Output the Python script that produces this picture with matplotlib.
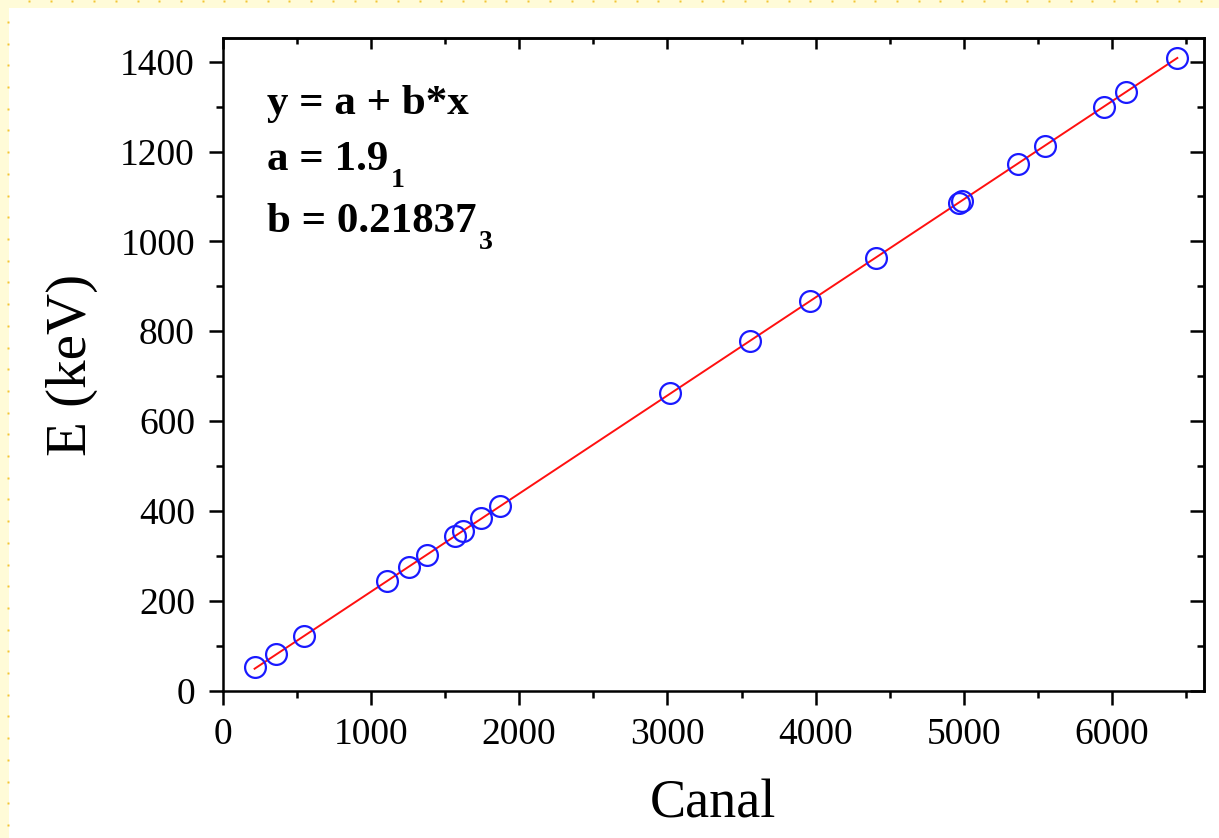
import numpy as np
import matplotlib
matplotlib.use("Agg")
import matplotlib.pyplot as plt
from matplotlib.patches import Rectangle
from matplotlib.ticker import MultipleLocator

# channel numbers and gamma energies
canal = [215, 360, 548, 1110, 1258, 1380, 1566, 1620, 1745, 1870, 3020,
         3560, 3965, 4405, 4965, 4985, 5365, 5545, 5945, 6095, 6440]
energy = [53, 81, 122, 245, 276, 303, 344, 356, 384, 411, 662,
          779, 867, 964, 1086, 1090, 1173, 1213, 1299, 1333, 1408]

# linear fit parameters shown on the chart
fit_a = 1.9
fit_b = 0.21837

plt.rcParams["font.family"] = ["Liberation Serif", "DejaVu Serif"]

fig = plt.figure(figsize=(12.19, 8.38), dpi=100)
ax = fig.add_axes([0.1827, 0.1758, 0.8050, 0.7785])

# fitted line across the data range
xfit = np.array([min(canal), max(canal)])
ax.plot(xfit, fit_a + fit_b * xfit, color="#ff1010", lw=1.4, zorder=2)
ax.plot(canal, energy, "o", ms=15, mfc="none", mec="#1a1aff", mew=1.6, zorder=3)

ax.set_xlim(0, 6620)
ax.set_ylim(0, 1452)
ax.xaxis.set_major_locator(MultipleLocator(1000))
ax.xaxis.set_minor_locator(MultipleLocator(500))
ax.yaxis.set_major_locator(MultipleLocator(200))
ax.yaxis.set_minor_locator(MultipleLocator(100))

for s in ax.spines.values():
    s.set_linewidth(1.8)
ax.tick_params(which="major", direction="out", length=10, width=1.8, labelsize=27, pad=9)
ax.tick_params(which="minor", direction="out", length=5, width=1.8)
ax.tick_params(axis="y", which="major", pad=10)

# inward ticks on top and right
top = ax.secondary_xaxis("top")
top.xaxis.set_major_locator(MultipleLocator(1000))
top.xaxis.set_minor_locator(MultipleLocator(500))
top.tick_params(which="major", direction="in", length=8, width=1.8, labeltop=False)
top.tick_params(which="minor", direction="in", length=4, width=1.8)
right = ax.secondary_yaxis("right")
right.yaxis.set_major_locator(MultipleLocator(200))
right.yaxis.set_minor_locator(MultipleLocator(100))
right.tick_params(which="major", direction="in", length=10, width=1.8, labelright=False)
right.tick_params(which="minor", direction="in", length=5, width=1.8)
for sec in (top, right):
    for s in sec.spines.values():
        s.set_linewidth(1.8)

ax.set_xlabel("Canal", fontsize=39)
ax.set_ylabel("E (keV)", fontsize=41)
ax.xaxis.set_label_coords(0.5, -0.135)
ax.yaxis.set_label_coords(-0.127, 0.5)

kw = dict(transform=ax.transAxes, fontsize=31, fontweight="bold", va="baseline", ha="left")
ax.text(0.045, 0.884, "y = a + b*x", **kw)
ta = ax.text(0.045, 0.798, "a = 1.9", **kw)
tb = ax.text(0.045, 0.703, "b = 0.21837", **kw)
# lowered subscripts (uncertainty digits)
for t, sub in ((ta, "1"), (tb, "3")):
    ax.annotate(sub, xy=(1, 0), xycoords=t, xytext=(2, 8), textcoords="offset points",
                fontsize=20, fontweight="bold", ha="left", va="top")

# yellow dotted page border (top and left)
W, H = 1219, 838
fig.add_artist(Rectangle((0, 1 - 8 / H), 1, 8 / H, transform=fig.transFigure,
                         facecolor="#fffbd8", edgecolor="none", zorder=0))
fig.add_artist(Rectangle((0, 0), 9 / W, 1, transform=fig.transFigure,
                         facecolor="#fffbd8", edgecolor="none", zorder=0))
dx = np.arange(29, W, 21.7) / W
dy = np.arange(22, H, 21.7) / H
fig.add_artist(plt.Line2D(dx, np.full(len(dx), 1 - 1.5 / H), transform=fig.transFigure,
                          ls="none", marker="s", ms=1.8, mfc="#f3c531", mec="none"))
fig.add_artist(plt.Line2D(np.full(len(dy), 7.5 / W), 1 - dy, transform=fig.transFigure,
                          ls="none", marker="s", ms=1.8, mfc="#f3c531", mec="none"))

fig.savefig("out.png", dpi=100)
